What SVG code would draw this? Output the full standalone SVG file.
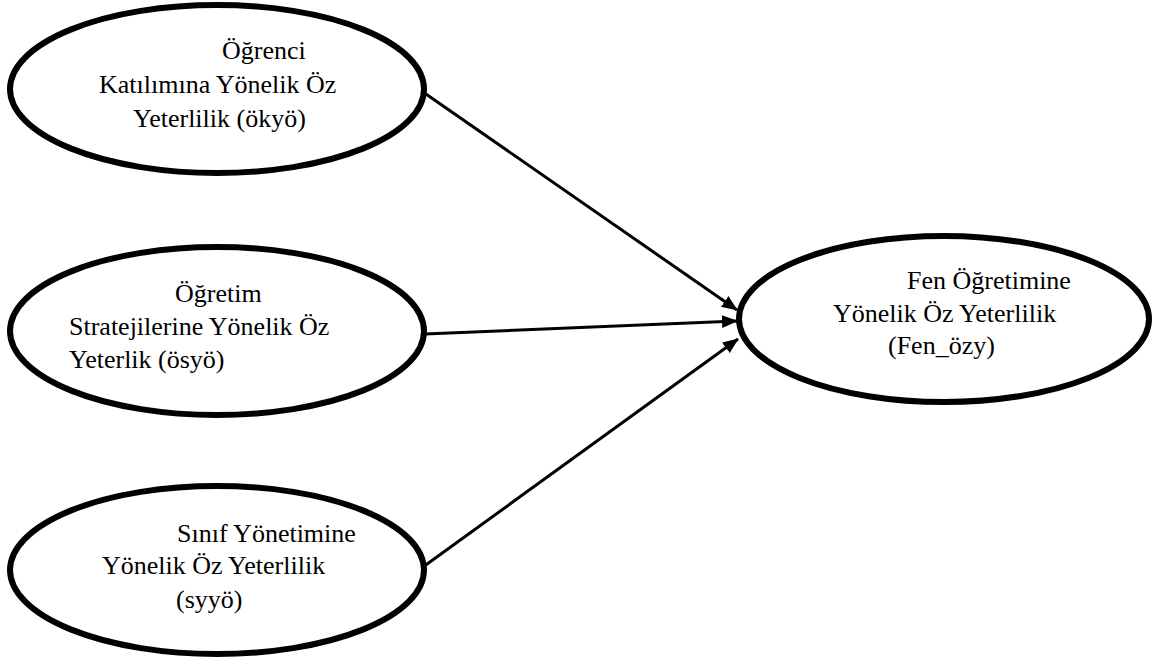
<svg xmlns="http://www.w3.org/2000/svg" width="1160" height="659" viewBox="0 0 1160 659">
<style>
.node ellipse{fill:#fff;stroke:#000;stroke-width:6}
.node text{font-family:"Liberation Serif","Times New Roman",serif;font-size:26px;fill:#000}
.edge{stroke:#000;stroke-width:3;fill:none;marker-end:url(#arr)}
</style>
<defs>
<marker id="arr" markerUnits="userSpaceOnUse" markerWidth="16" markerHeight="14" refX="15" refY="6.5" orient="auto">
<path d="M0,0 L16,6.5 L0,13 Z" fill="#000"/>
</marker>
</defs>
<rect width="1160" height="659" fill="#fff"/>
<g id="okyo" class="node">
<ellipse cx="217" cy="89" rx="207" ry="84"/>
<text x="222" y="59">Öğrenci</text>
<text x="99" y="93">Katılımına Yönelik Öz</text>
<text x="133" y="127">Yeterlilik (ökyö)</text>
</g>
<g id="osyo" class="node">
<ellipse cx="217" cy="331" rx="207" ry="84"/>
<text x="175" y="302">Öğretim</text>
<text x="69" y="335">Stratejilerine Yönelik Öz</text>
<text x="69" y="368">Yeterlik (ösyö)</text>
</g>
<g id="syyo" class="node">
<ellipse cx="217" cy="570" rx="207" ry="84"/>
<text x="177" y="542">Sınıf Yönetimine</text>
<text x="102" y="574">Yönelik Öz Yeterlilik</text>
<text x="176" y="608">(syyö)</text>
</g>
<g id="fen_ozy" class="node">
<ellipse cx="944" cy="319" rx="205" ry="83"/>
<text x="907" y="289">Fen Öğretimine</text>
<text x="833" y="322">Yönelik Öz Yeterlilik</text>
<text x="888" y="354">(Fen_özy)</text>
</g>
<g id="connectors">
<line class="edge" x1="423" y1="92" x2="737" y2="310"/>
<line class="edge" x1="425" y1="334" x2="737" y2="321"/>
<line class="edge" x1="423" y1="567" x2="738" y2="339"/>
</g>
</svg>
